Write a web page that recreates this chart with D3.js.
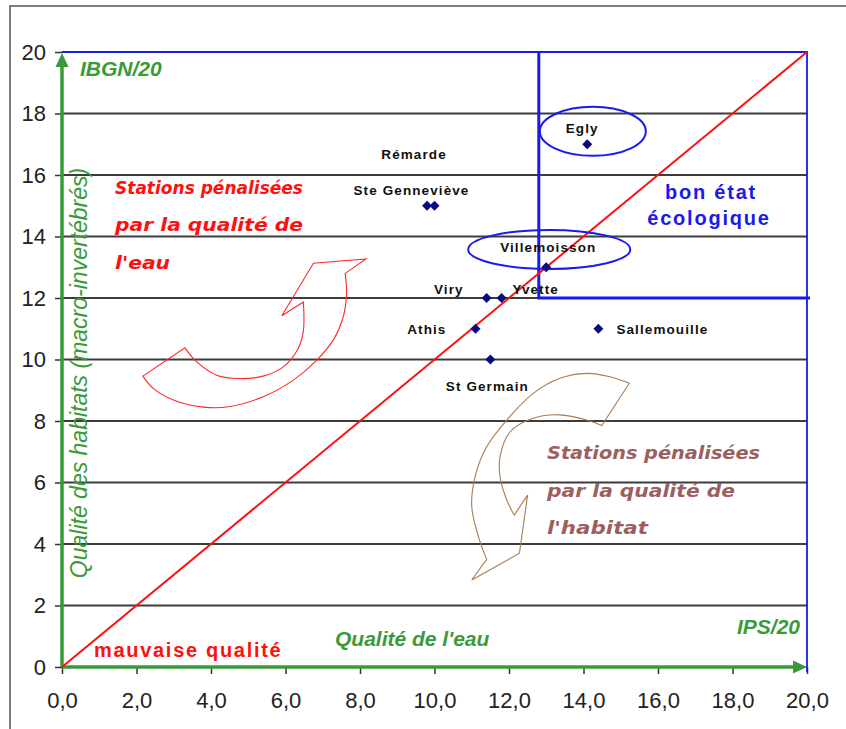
<!DOCTYPE html>
<html>
<head>
<meta charset="utf-8">
<script src="https://cdn.jsdelivr.net/npm/d3@7"></script>
<style>
  body { margin: 0; background: #fff; }
  svg { display: block; font-family: "Liberation Sans", Arial, sans-serif; }
</style>
</head>
<body>
<div id="chart"></div>
<script>
// stations : IPS (qualité de l'eau) / IBGN (qualité des habitats)
const stations = ["Egly", "Rémarde", "Ste Genneviève", "Villemoisson", "Viry", "Yvette", "Athis", "Sallemouille", "St Germain"];
const ips  = [14.1, 9.8, 10.0, 13.0, 11.4, 11.8, 11.1, 14.4, 11.5];
const ibgn = [17.0, 15.0, 15.0, 13.0, 12.0, 12.0, 11.0, 11.0, 10.0];
const tickValues = d3.range(0, 21, 2);

// label placement (pixels, relative to each point)
const labelLayout = {
    "Egly":           {anchor: "middle", dx: -5,  dy: -11},
    "Rémarde":        {anchor: "middle", dx: -13, dy: -47},
    "Ste Genneviève": {anchor: "middle", dx: -23, dy: -11},
    "Villemoisson":   {anchor: "middle", dx: 2,   dy: -15},
    "Viry":           {anchor: "end",    dx: -23, dy: -4},
    "Yvette":         {anchor: "start",  dx: 11,  dy: -4},
    "Athis":          {anchor: "end",    dx: -29, dy: 5},
    "Sallemouille":   {anchor: "start",  dx: 18,  dy: 5},
    "St Germain":     {anchor: "middle", dx: -3,  dy: 31}
};

// "bon état écologique" box : IPS >= 12.8 and IBGN >= 12
const goodIps = 12.8, goodIbgn = 12;

// annotation arrows, in data units
const redArrow = [
    {curve: false, pts: [[2.17, 9.46], [3.30, 10.38]]},
    {curve: true,  pts: [[3.30, 10.38], [3.62, 9.92], [4.15, 9.49], [4.78, 9.38], [5.40, 9.46], [5.94, 9.76], [6.34, 10.36], [6.48, 10.93], [6.48, 11.87]]},
    {curve: false, pts: [[6.48, 11.87], [5.90, 11.42], [6.75, 13.13], [8.16, 13.27], [7.60, 12.80]]},
    {curve: true,  pts: [[7.60, 12.80], [7.64, 12.15], [7.55, 11.39], [7.28, 10.63], [6.84, 9.98], [6.21, 9.33], [5.40, 8.79], [4.51, 8.47], [3.79, 8.45], [2.99, 8.68], [2.45, 9.06], [2.17, 9.46]]}
];
const brownArrow = [
    {curve: false, pts: [[15.23, 9.23], [14.49, 7.85]]},
    {curve: true,  pts: [[14.49, 7.85], [14.09, 8.03], [13.37, 8.20], [12.65, 8.09], [12.03, 7.65], [11.76, 6.84], [11.76, 6.19], [11.94, 5.43], [12.14, 4.94]]},
    {curve: false, pts: [[12.14, 4.94], [12.50, 5.59], [12.28, 3.70], [11.00, 2.83], [11.40, 3.50]]},
    {curve: true,  pts: [[11.40, 3.50], [11.18, 4.24], [11.00, 5.21], [11.09, 6.19], [11.40, 7.16], [11.94, 8.03], [12.65, 8.90], [13.37, 9.39], [14.09, 9.55], [14.71, 9.44], [15.23, 9.23]]}
];

const width = 846, height = 729;
const green = "#3a9a3a", blue = "#1a1aee", red = "#ff1010";

const svg = d3.select("#chart").append("svg")
    .attr("width", width)
    .attr("height", height);

const x = d3.scaleLinear().domain([0, 20]).range([62, 807]);
const y = d3.scaleLinear().domain([0, 20]).range([667, 52]);

// outer frame (left and top only)
svg.append("path")
    .attr("d", `M10,${height} L10,6 L${width},6`)
    .attr("fill", "none")
    .attr("stroke", "#555")
    .attr("stroke-width", 1.5);

// horizontal grid lines
svg.append("g")
    .selectAll("line")
    .data(tickValues.filter(d => d > 0 && d < 20))
    .join("line")
    .attr("x1", x(0))
    .attr("x2", x(20))
    .attr("y1", d => y(d))
    .attr("y2", d => y(d))
    .attr("stroke", "#3c3c3c")
    .attr("stroke-width", 1.8);

// axes
const yAxis = svg.append("g")
    .attr("transform", `translate(${x(0)},0)`)
    .call(d3.axisLeft(y).tickValues(tickValues).tickSize(7).tickPadding(9).tickFormat(d3.format("d")));
const xAxis = svg.append("g")
    .attr("transform", `translate(0,${y(0)})`)
    .call(d3.axisBottom(x).tickValues(tickValues).tickSize(7).tickPadding(18)
        .tickFormat(d => d.toFixed(1).replace(".", ",")));

[yAxis, xAxis].forEach(ax => {
    ax.select(".domain").remove();
    ax.selectAll(".tick line").attr("stroke", "#333").attr("stroke-width", 1.5);
    ax.selectAll(".tick text")
        .attr("fill", "#222")
        .style("font-size", "22px")
        .style("font-family", "'Liberation Sans', Arial, sans-serif");
});

// blue plot border (top and right) and "bon état" box
svg.append("path")
    .attr("d", `M${x(0)},${y(20)} L${x(20)},${y(20)} L${x(20)},${y(0) + 5}`)
    .attr("fill", "none")
    .attr("stroke", blue)
    .attr("stroke-width", 1.8);
svg.append("path")
    .attr("d", `M${x(goodIps)},${y(20)} L${x(goodIps)},${y(goodIbgn)} L${x(20) + 3},${y(goodIbgn)}`)
    .attr("fill", "none")
    .attr("stroke", blue)
    .attr("stroke-width", 3);

// green axis arrows
const arrowHead = (tip, dir) => {
    // dir: "up" or "right"
    const [tx, ty] = tip;
    return dir === "up"
        ? `M${tx},${ty} L${tx - 6.5},${ty + 14} L${tx + 6.5},${ty + 14} Z`
        : `M${tx},${ty} L${tx - 14},${ty - 6.5} L${tx - 14},${ty + 6.5} Z`;
};
svg.append("line")
    .attr("x1", x(0)).attr("y1", y(0))
    .attr("x2", x(0)).attr("y2", y(20) + 8)
    .attr("stroke", green).attr("stroke-width", 3.5);
svg.append("path").attr("d", arrowHead([x(0), y(20) + 1], "up")).attr("fill", green);
svg.append("line")
    .attr("x1", x(0)).attr("y1", y(0))
    .attr("x2", x(20) - 8).attr("y2", y(0))
    .attr("stroke", green).attr("stroke-width", 3.5);
svg.append("path").attr("d", arrowHead([x(20), y(0)], "right")).attr("fill", green);

// diagonal IPS = IBGN
svg.append("line")
    .attr("x1", x(0)).attr("y1", y(0))
    .attr("x2", x(20)).attr("y2", y(20))
    .attr("stroke", red)
    .attr("stroke-width", 2);

// curved hollow arrows
function arrowPath(segments) {
    return segments.map((s, i) => {
        const gen = d3.line().x(p => x(p[0])).y(p => y(p[1]))
            .curve(s.curve ? d3.curveCatmullRom.alpha(0.5) : d3.curveLinear);
        const d = gen(s.pts);
        return i === 0 ? d : "L" + d.slice(1);
    }).join("") + "Z";
}
svg.append("path")
    .attr("d", arrowPath(redArrow))
    .attr("fill", "none")
    .attr("stroke", "#ff2a2a")
    .attr("stroke-width", 1.1);
svg.append("path")
    .attr("d", arrowPath(brownArrow))
    .attr("fill", "none")
    .attr("stroke", "#a87c55")
    .attr("stroke-width", 1.1);

// ellipses around Egly and Villemoisson
svg.append("ellipse")
    .attr("cx", x(14.25)).attr("cy", y(17.42))
    .attr("rx", 53).attr("ry", 24.5)
    .attr("fill", "none").attr("stroke", blue).attr("stroke-width", 2);
svg.append("ellipse")
    .attr("cx", x(13.08)).attr("cy", y(13.58))
    .attr("rx", 81).attr("ry", 19.5)
    .attr("fill", "none").attr("stroke", blue).attr("stroke-width", 2);

// points
const points = stations.map((name, i) => ({name, ips: ips[i], ibgn: ibgn[i]}));
svg.append("g")
    .selectAll("path")
    .data(points)
    .join("path")
    .attr("d", d3.symbol(d3.symbolSquare, 50))
    .attr("transform", d => `translate(${x(d.ips)},${y(d.ibgn)}) rotate(45)`)
    .attr("fill", "#0a0a80");

svg.append("g")
    .selectAll("text")
    .data(points)
    .join("text")
    .attr("x", d => x(d.ips) + labelLayout[d.name].dx)
    .attr("y", d => y(d.ibgn) + labelLayout[d.name].dy)
    .attr("text-anchor", d => labelLayout[d.name].anchor)
    .attr("fill", "#111")
    .style("font-size", "13.5px")
    .style("font-weight", "bold")
    .style("letter-spacing", "1.1px")
    .text(d => d.name);

// axis titles
svg.append("text")
    .attr("x", 80).attr("y", 76)
    .attr("fill", green)
    .style("font-size", "21px").style("font-weight", "bold").style("font-style", "italic")
    .text("IBGN/20");
svg.append("text")
    .attr("x", 800).attr("y", 634)
    .attr("text-anchor", "end")
    .attr("fill", green)
    .style("font-size", "21px").style("font-weight", "bold").style("font-style", "italic")
    .text("IPS/20");
svg.append("text")
    .attr("x", 335).attr("y", 646)
    .attr("fill", green)
    .style("font-size", "21px").style("font-weight", "bold").style("font-style", "italic")
    .text("Qualité de l'eau");
svg.append("text")
    .attr("transform", "translate(87,373) rotate(-90)")
    .attr("text-anchor", "middle")
    .attr("fill", green)
    .style("font-size", "23px").style("font-style", "italic")
    .text("Qualité des habitats (macro-invertébrés)");

// zone annotations
svg.append("text")
    .attr("x", 94).attr("y", 657)
    .attr("fill", red)
    .style("font-size", "20px").style("font-weight", "bold").style("letter-spacing", "1.7px")
    .text("mauvaise qualité");

const good = svg.append("text")
    .attr("fill", blue)
    .attr("text-anchor", "middle")
    .style("font-size", "20px").style("font-weight", "bold").style("letter-spacing", "1.8px");
good.append("tspan").attr("x", 711).attr("y", 199).text("bon état");
good.append("tspan").attr("x", 709).attr("y", 225).text("écologique");

function handText(lines, x0, baselines, color, size, widths) {
    const t = svg.append("text")
        .attr("fill", color)
        .style("font-family", "'DejaVu Sans', sans-serif")
        .style("font-size", size + "px")
        .style("font-weight", "bold")
        .style("font-style", "italic");
    lines.forEach((l, i) => {
        t.append("tspan")
            .attr("x", x0).attr("y", baselines[i])
            .attr("textLength", widths[i])
            .attr("lengthAdjust", "spacingAndGlyphs")
            .text(l);
    });
}
handText(["Stations pénalisées", "par la qualité de", "l'eau"], 115, [194, 231, 269], red, 17, [188, 188, 55]);
handText(["Stations pénalisées", "par la qualité de", "l'habitat"], 547, [459, 497, 534], "#9c5e5e", 18, [213, 188, 101]);
</script>
</body>
</html>
